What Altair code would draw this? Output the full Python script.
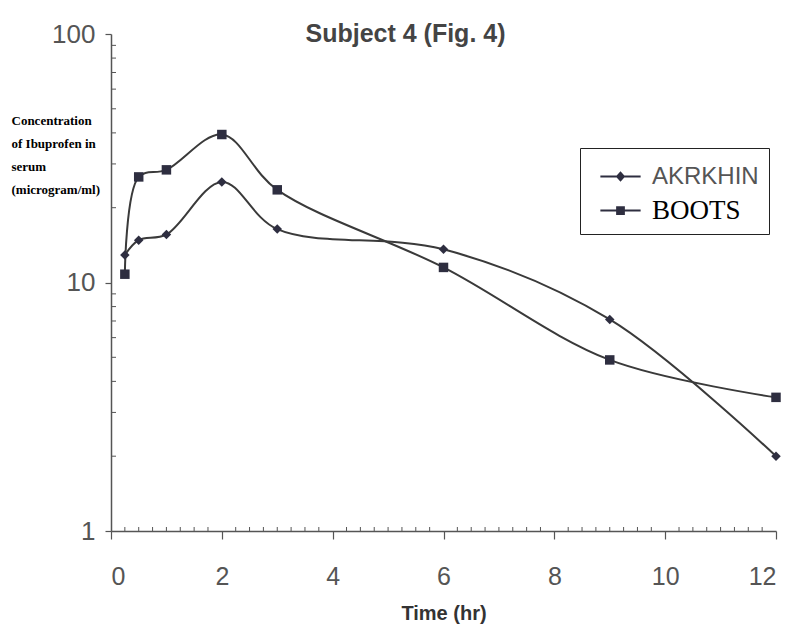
import altair as alt
import pandas as pd

times = [0.25, 0.5, 1, 2, 3, 6, 9, 12]
akrkhin = [12.9, 14.8, 15.6, 25.4, 16.4, 13.6, 7.1, 2.0]
boots = [10.8, 26.6, 28.4, 39.4, 23.6, 11.5, 4.88, 3.45]
series_names = ["AKRKHIN", "BOOTS"]
y_major = [1, 10, 100]
y_minor = [2, 3, 4, 5, 6, 7, 8, 9, 20, 30, 40, 50, 60, 70, 80, 90]
x_major = [0, 2, 4, 6, 8, 10, 12]
x_minor = [i / 4 for i in range(1, 48) if i % 8 != 0]

df = pd.DataFrame({
    "time": times * 2,
    "conc": akrkhin + boots,
    "series": ["AKRKHIN"] * len(times) + ["BOOTS"] * len(times),
})

W, H = 665, 497
AX = "#555555"
xscale = alt.Scale(domain=[0, 12], nice=False, zero=False)
yscale = alt.Scale(type="log", domain=[1, 100], nice=False)

x_axis = alt.Axis(
    values=x_major, format="d", grid=False, title="Time (hr)",
    labelFont="Liberation Sans", labelFontSize=25, labelColor=AX, labelPadding=25,
    tickSize=8, tickColor=AX, domainColor=AX, domainWidth=1.5, tickWidth=1.2,
    titleFont="Liberation Sans", titleFontSize=20, titleFontWeight="bold",
    titleColor="#333333", titleY=82, titleBaseline="middle")
y_axis = alt.Axis(
    values=y_major, format="d", grid=False,
    title=["Concentration", "of Ibuprofen in", "serum", "(microgram/ml)"],
    labelFont="Liberation Sans", labelFontSize=26, labelColor=AX, labelPadding=10,
    tickSize=6, tickColor=AX, domainColor=AX, domainWidth=1.5, tickWidth=1.2,
    titleAngle=0, titleAlign="left", titleBaseline="top", titleX=-100, titleY=80,
    titleFont="Liberation Serif", titleFontSize=13, titleFontWeight="bold",
    titleColor="#000000", titleLineHeight=23)

x_enc = alt.X("time:Q", scale=xscale, axis=x_axis)
y_enc = alt.Y("conc:Q", scale=yscale, axis=y_axis)

base = alt.Chart(df)
lines = base.mark_line(interpolate="catmull-rom", color="#3a3a3a", strokeWidth=2).encode(
    x=x_enc, y=y_enc, detail="series:N")
points = base.mark_point(filled=True, opacity=1, color="#2e2e40", size=90).encode(
    x=x_enc, y=y_enc,
    shape=alt.Shape("series:N", scale=alt.Scale(domain=series_names, range=["diamond", "square"]), legend=None))

ymin = alt.Chart(pd.DataFrame({"conc": y_minor})).mark_rule(color=AX, strokeWidth=1).encode(
    y=y_enc, x=alt.value(0), x2=alt.value(5))
xmin = alt.Chart(pd.DataFrame({"time": x_minor})).mark_rule(color=AX, strokeWidth=1).encode(
    x=x_enc, y=alt.value(H), y2=alt.value(H - 4))

# legend symbols: thin bar (the line) plus the marker, all filled
pathA = "M-1.15,-0.055L1.15,-0.055L1.15,0.055L-1.15,0.055ZM0,-0.3L0.27,0L0,0.3L-0.27,0Z"
pathB = "M-1.15,-0.055L1.15,-0.055L1.15,0.055L-1.15,0.055ZM-0.25,-0.25L0.25,-0.25L0.25,0.25L-0.25,0.25Z"
leg = base.transform_filter("false").mark_point(
    filled=True, color="#2e2e40", opacity=1).encode(
    x=x_enc, y=y_enc,
    shape=alt.Shape("series:N", scale=alt.Scale(domain=series_names, range=[pathA, pathB]),
                    legend=alt.Legend(
                        title=None, orient="none", legendX=469, legendY=114,
                        strokeColor="#222222", padding=10, symbolSize=1225,
                        symbolOffset=12, labelOffset=13,
                        symbolFillColor="#2e2e40", symbolOpacity=1, rowPadding=3,
                        labelFontSize=alt.ExprRef("datum.value == 'BOOTS' ? 27 : 24"),
                        labelFont=alt.ExprRef("datum.value == 'BOOTS' ? 'Liberation Serif' : 'Liberation Sans'"),
                        labelColor=alt.ExprRef("datum.value == 'BOOTS' ? '#000000' : '#555555'"))))

chart = alt.layer(lines, points, ymin, xmin, leg).resolve_scale(shape="independent").properties(
    width=W, height=H,
    title=alt.TitleParams("Subject 4 (Fig. 4)", font="Liberation Sans", fontSize=25,
                          fontWeight="bold", color="#444444", anchor="middle",
                          dx=-38, offset=0, dy=46, baseline="alphabetic"),
    padding={"left": 111, "top": 34, "right": 20, "bottom": 99},
    autosize=alt.AutoSizeParams(type="none"),
).configure_view(stroke=None)

chart.save("out.html", embed_options={"renderer": "svg", "actions": False})
